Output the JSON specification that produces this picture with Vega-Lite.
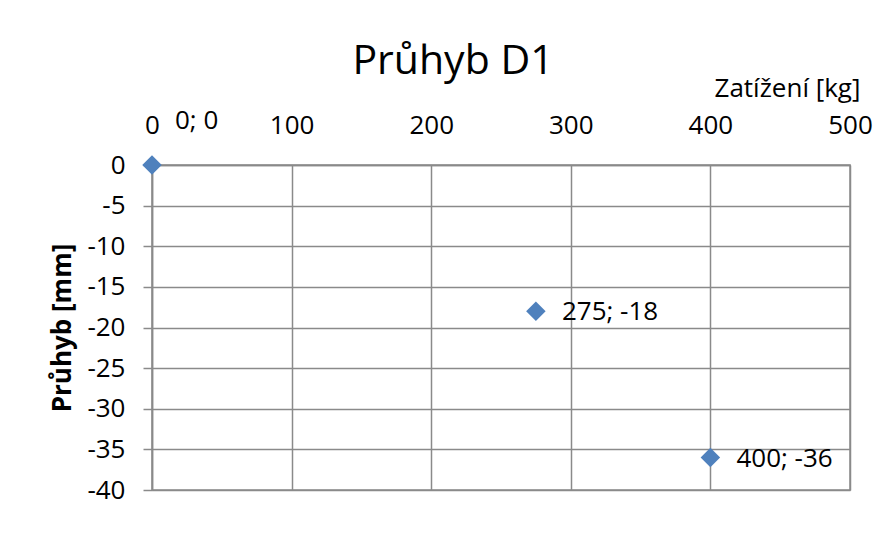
{
  "$schema": "https://vega.github.io/schema/vega-lite/v6.json",
  "autosize": {"type": "none"},
  "padding": {"left": 152, "top": 165, "right": 40, "bottom": 67},
  "width": 698,
  "height": 325,
  "background": "white",
  "config": {
    "font": "Open Sans",
    "view": {"stroke": "#8a8a8a", "strokeWidth": 1.5}
  },
  "title": {
    "text": "Průhyb D1",
    "font": "Open Sans",
    "fontSize": 41,
    "fontWeight": "normal",
    "color": "#000000",
    "anchor": "middle",
    "dx": -48,
    "offset": -8
  },
  "data": {
    "values": [
      {"zatizeni": 0, "pruhyb": 0, "label": "0; 0"},
      {"zatizeni": 275, "pruhyb": -18, "label": "275; -18"},
      {"zatizeni": 400, "pruhyb": -36, "label": "400; -36"}
    ]
  },
  "encoding": {
    "x": {
      "field": "zatizeni",
      "type": "quantitative",
      "scale": {"domain": [0, 500], "nice": false, "zero": false},
      "axis": {
        "orient": "top",
        "values": [0, 100, 200, 300, 400, 500],
        "labelExpr": "'' + datum.value",
        "title": "Zatížení [kg]",
        "titleFont": "Open Sans",
        "titleFontSize": 26,
        "titleFontWeight": "normal",
        "titleColor": "#000000",
        "titleX": 708,
        "titleY": -69,
        "titleAlign": "right",
        "titleAnchor": null,
        "titleBaseline": "alphabetic",
        "labelFont": "Open Sans",
        "labelFontSize": 26,
        "labelColor": "#000000",
        "labelPadding": 27,
        "labelFlush": false,
        "ticks": false,
        "domainColor": "#8a8a8a",
        "domainWidth": 1.5,
        "gridColor": "#8a8a8a",
        "gridWidth": 1.5
      }
    },
    "y": {
      "field": "pruhyb",
      "type": "quantitative",
      "scale": {"domain": [-40, 0], "nice": false, "zero": false},
      "axis": {
        "values": [0, -5, -10, -15, -20, -25, -30, -35, -40],
        "labelExpr": "'' + datum.value",
        "title": "Průhyb [mm]",
        "titleFont": "Open Sans",
        "titleFontSize": 26,
        "titleFontWeight": "bold",
        "titleColor": "#000000",
        "titlePadding": 11,
        "labelFont": "Open Sans",
        "labelFontSize": 26,
        "labelColor": "#000000",
        "labelPadding": 18,
        "labelFlush": false,
        "ticks": true,
        "tickSize": 9,
        "tickColor": "#8a8a8a",
        "tickWidth": 1.5,
        "domainColor": "#8a8a8a",
        "domainWidth": 1.5,
        "gridColor": "#8a8a8a",
        "gridWidth": 1.5
      }
    }
  },
  "layer": [
    {
      "mark": {"type": "point", "shape": "diamond", "filled": true, "size": 380, "color": "#4F81BD", "opacity": 1, "clip": false}
    },
    {
      "transform": [{"filter": "datum.zatizeni > 0"}],
      "mark": {"type": "text", "align": "left", "baseline": "middle", "dx": 26, "dy": 1, "fontSize": 26, "font": "Open Sans", "color": "#000000"},
      "encoding": {"text": {"field": "label"}}
    },
    {
      "transform": [{"filter": "datum.zatizeni == 0"}],
      "mark": {"type": "text", "align": "left", "baseline": "middle", "dx": 23, "dy": -44, "fontSize": 26, "font": "Open Sans", "color": "#000000", "clip": false},
      "encoding": {"text": {"field": "label"}}
    }
  ]
}
